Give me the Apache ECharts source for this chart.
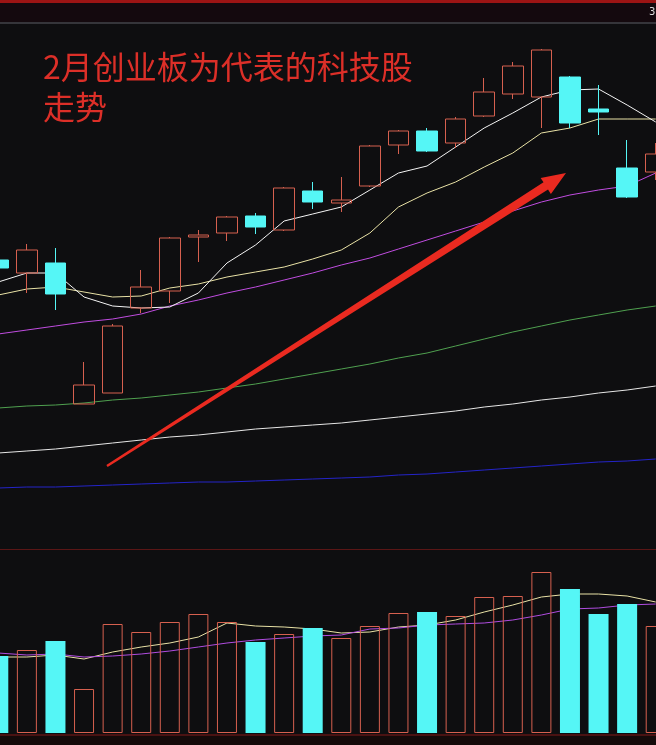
<!DOCTYPE html>
<html>
<head>
<meta charset="utf-8">
<script src="https://cdn.jsdelivr.net/npm/echarts@6/dist/echarts.min.js"></script>
<style>
html,body{margin:0;padding:0;background:#0e0e10;overflow:hidden;width:656px;height:745px;position:relative;}
#main{position:absolute;left:-16px;top:0;width:686px;height:745px;}
</style>
</head>
<body>
<div id="main"></div>
<script>
// ---- data ----
var days = ['D1','D2','D3','D4','D5','D6','D7','D8','D9','D10','D11','D12','D13','D14','D15','D16','D17','D18','D19','D20','D21','D22','D23','D24'];
// [open, close, low, high]
var candles = [
  [3080,3064,3058,3086],[3054,3100,3014,3112],[3074,3012,2980,3104],[2792,2830,2792,2876],
  [2814,2948,2814,2952],[2984,3026,2974,3060],[3018,3124,2994,3126],[3126,3130,3076,3140],
  [3134,3166,3118,3168],[3168,3146,3132,3174],[3140,3224,3138,3226],[3218,3196,3182,3236],
  [3194,3200,3176,3246],[3228,3308,3226,3310],[3310,3338,3292,3340],[3338,3298,3296,3344],
  [3314,3362,3304,3366],[3368,3416,3366,3444],[3412,3468,3402,3476],[3406,3500,3344,3502],
  [3446,3354,3344,3448],[3382,3376,3330,3430],[3264,3206,3204,3320],[3256,3292,3240,3314]
];
var ma5   = [3036,3054,3054,3006,2988,2984,2986,3014,3074,3110,3158,3172,3186,3220,3254,3268,3306,3344,3374,3406,3420,3422,3390,3356];
var ma10  = [3010,3022,3026,3016,3006,3008,3024,3032,3046,3056,3066,3082,3100,3134,3186,3214,3236,3266,3294,3334,3344,3362,3362,3362];
var ma20  = [2932,2940,2948,2956,2962,2972,2988,3000,3014,3026,3040,3054,3070,3084,3102,3120,3138,3156,3178,3196,3210,3220,3228,3254];
var ma60  = [2784,2788,2790,2794,2800,2804,2810,2816,2824,2832,2842,2852,2862,2872,2884,2894,2908,2922,2936,2948,2960,2970,2980,2988];
var ma120 = [2694,2698,2702,2708,2714,2720,2726,2730,2736,2742,2746,2750,2754,2760,2766,2772,2778,2786,2792,2800,2806,2814,2820,2828];
var ma250 = [2624,2626,2626,2628,2630,2632,2634,2636,2636,2638,2640,2642,2644,2646,2650,2652,2656,2660,2664,2668,2672,2676,2678,2682];
var volume = [77,83,92,44,109,101,111,119,111,91,99,105,95,107,120,121,117,136,137,161,144,119,129,107];
var volMa5  = [76,76,78,74,81,86,90,96,110,107,106,104,100,101,106,108,113,121,128,136,139,139,137,131];
var volMa10 = [80,78,79,76,77,79,82,86,90,93,95,97,98,104,105,108,109,110,113,118,124,125,128,129];
var titleLines = ['2月创业板为代表的科技股', '走势'];

// ---- style ----
var UP = '#d6604f', DOWN = '#55f6f6', BG = '#0e0e10';
var OX = 16; // chart canvas is shifted 16px left of the viewport

var volData = volume.map(function (v, i) {
  var up = candles[i][1] >= candles[i][0];
  return {
    value: v,
    itemStyle: up ? {color: 'rgba(0,0,0,0)', borderColor: UP, borderWidth: 1}
                  : {color: DOWN, borderColor: DOWN, borderWidth: 0}
  };
});

function maLine(name, data, color, idx, width) {
  return {
    name: name, type: 'line', data: data, xAxisIndex: idx, yAxisIndex: idx,
    symbol: 'none', smooth: false, silent: true, z: 1,
    lineStyle: {color: color, width: width || 1}
  };
}

// annotation arrow (pixel geometry, tapering shaft + head)
function arrowPoints(tail, tip, w0, w1, headLen, headHalf) {
  var dx = tip[0] - tail[0], dy = tip[1] - tail[1];
  var len = Math.sqrt(dx * dx + dy * dy);
  var ux = dx / len, uy = dy / len, nx = -uy, ny = ux;
  var bx = tip[0] - ux * headLen, by = tip[1] - uy * headLen;
  var pts = [
    [tail[0] + nx * w0, tail[1] + ny * w0],
    [bx + nx * w1, by + ny * w1],
    [bx + nx * headHalf, by + ny * headHalf],
    [tip[0], tip[1]],
    [bx - nx * headHalf, by - ny * headHalf],
    [bx - nx * w1, by - ny * w1],
    [tail[0] - nx * w0, tail[1] - ny * w0]
  ];
  return pts.map(function (p) { return [p[0] + OX, p[1]]; });
}

var chart = echarts.init(document.getElementById('main'), null, {renderer: 'canvas'});
var option = {
  backgroundColor: BG,
  animation: false,
  grid: [
    {left: 0, right: 0, top: 0, height: 550},
    {left: 0, right: 0, top: 550, height: 183}
  ],
  xAxis: [
    {type: 'category', data: days, gridIndex: 0, boundaryGap: true, show: false},
    {type: 'category', data: days, gridIndex: 1, boundaryGap: true, show: false}
  ],
  yAxis: [
    {type: 'value', gridIndex: 0, min: 2500, max: 3600, show: false, splitLine: {show: false}},
    {type: 'value', gridIndex: 1, min: 0, max: 183, show: false, splitLine: {show: false}}
  ],
  series: [
    maLine('MA250', ma250, '#2424c8', 0),
    maLine('MA120', ma120, '#e6e6e6', 0),
    maLine('MA60', ma60, '#4fa04f', 0),
    maLine('MA20', ma20, '#c04ce0', 0),
    maLine('MA10', ma10, '#e9e2a6', 0),
    maLine('MA5', ma5, '#f4f4f4', 0),
    {
      name: 'K', type: 'candlestick', data: candles, xAxisIndex: 0, yAxisIndex: 0,
      barWidth: 21, z: 2,
      itemStyle: {color: 'rgba(0,0,0,0)', color0: DOWN, borderColor: UP, borderColor0: DOWN, borderWidth: 1}
    },
    {
      name: 'VOL', type: 'bar', data: volData, xAxisIndex: 1, yAxisIndex: 1,
      barWidth: 20, z: 2
    },
    maLine('VMA5', volMa5, '#e9e2a6', 1),
    maLine('VMA10', volMa10, '#b04ce0', 1)
  ],
  graphic: [
    {type: 'rect', shape: {x: 0, y: 0, width: 700, height: 3}, style: {fill: '#9c1414'}, silent: true},
    {type: 'rect', shape: {x: 0, y: 3, width: 700, height: 19}, style: {fill: '#14090e'}, silent: true},
    {type: 'rect', shape: {x: 0, y: 22, width: 700, height: 2}, style: {fill: '#35353a'}, silent: true},
    {type: 'text', left: 649 + OX, top: 7, style: {text: '3', fill: '#dddddd', font: '10px "DejaVu Sans"'}, silent: true},
    {type: 'rect', shape: {x: 0, y: 549, width: 700, height: 1}, style: {fill: '#5a1616'}, silent: true},
    {type: 'rect', shape: {x: 0, y: 734, width: 700, height: 2}, style: {fill: '#4a1212'}, silent: true},
    {type: 'rect', shape: {x: 0, y: 736, width: 700, height: 9}, style: {fill: '#140a0a'}, silent: true},
    {
      type: 'polygon', silent: true, z: 10,
      shape: {points: arrowPoints([107, 466], [566, 173], 1.2, 4.2, 24, 9.5)},
      style: {fill: '#ea2a20'}
    },
    {
      type: 'text', left: 43 + OX, top: 47, z: 10, silent: true,
      style: {text: titleLines.join('\n'), fill: '#dc2f28', font: '32px "Noto Sans CJK SC"', lineHeight: 40}
    }
  ]
};
chart.setOption(option);
</script>
</body>
</html>
